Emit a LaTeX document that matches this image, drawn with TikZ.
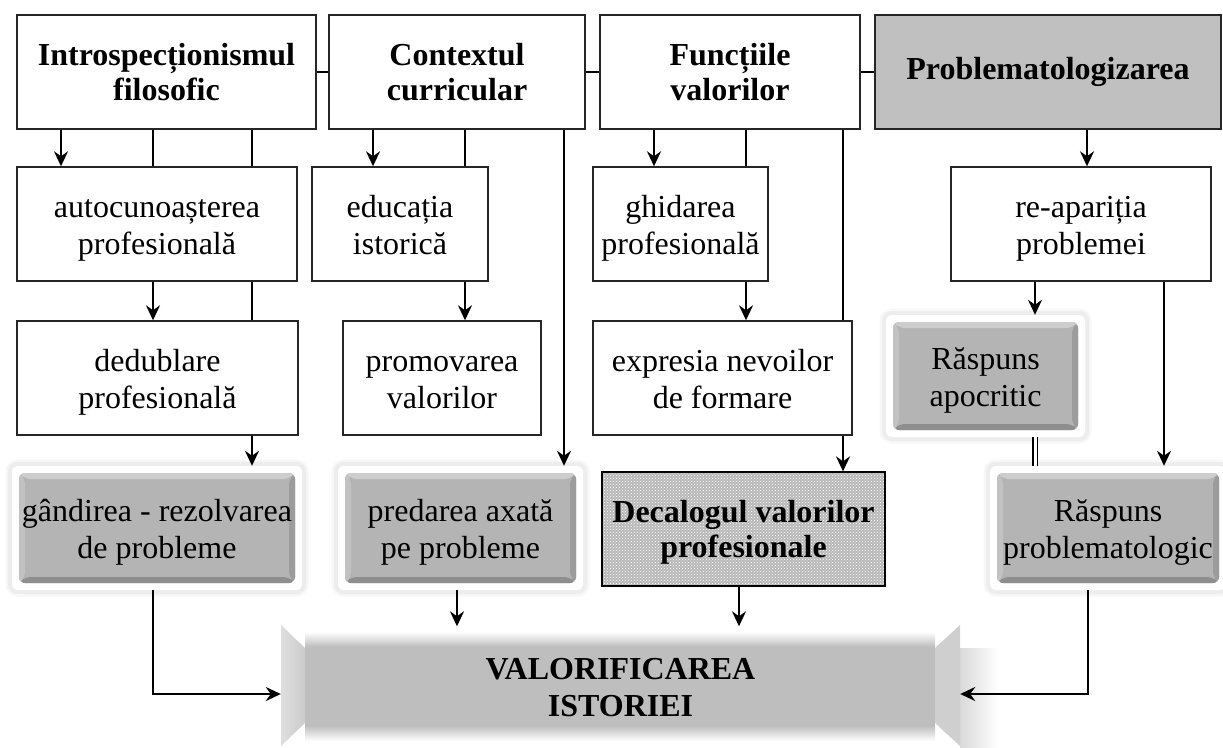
\documentclass[tikz,border=0pt]{standalone}
\usepackage{fontspec}
\setmainfont{Liberation Serif}
\usetikzlibrary{arrows.meta,patterns,backgrounds}
\definecolor{bgray}{HTML}{B4B4B4}
\definecolor{btop}{HTML}{CDCDCD}
\definecolor{bleft}{HTML}{C2C2C2}
\definecolor{bright}{HTML}{9C9C9C}
\definecolor{bbot}{HTML}{8E8E8E}
\definecolor{tgray}{HTML}{C0C0C0}
\definecolor{vgray}{HTML}{BEBEBE}
\newcommand\twol[2]{\rule{0pt}{32pt}#1\\#2\rule[-9pt]{0pt}{9pt}}
\newcommand\twob[2]{\rule{0pt}{30pt}#1\\#2\rule[-9pt]{0pt}{9pt}}
\begin{document}
\begin{tikzpicture}[x=1pt,y=-1pt,
  box/.style={draw=black!85, line width=1.4pt, align=center, inner sep=0pt,
    font=\fontsize{32}{37}\selectfont},
  bbox/.style={box, font=\fontsize{32}{35}\selectfont\bfseries},
  conn/.style={line width=2.3pt, black},
  arr/.style={conn, -{Stealth[length=15pt,width=14pt,inset=5pt]}},
  dline/.style={double, double distance=3pt, line width=1.2pt},
  bevel/.style={draw=none, fill=white, rounded corners=6pt, align=center, inner sep=0pt,
    font=\fontsize{32}{37}\selectfont,
    preaction={draw=black!3, line width=13pt},
    preaction={draw=black!7, line width=8pt},
    path picture={
      \path (path picture bounding box.north west) ++(7pt,-7pt) coordinate (iNW);
      \path (path picture bounding box.north east) ++(-7pt,-7pt) coordinate (iNE);
      \path (path picture bounding box.south west) ++(7pt,7pt) coordinate (iSW);
      \path (path picture bounding box.south east) ++(-7pt,7pt) coordinate (iSE);
      \fill[bgray] (iNW) rectangle (iSE);
      \fill[btop] (iNW) -- (iNE) -- ([shift={(-6pt,-6pt)}]iNE) -- ([shift={(6pt,-6pt)}]iNW) -- cycle;
      \fill[bbot] (iSW) -- (iSE) -- ([shift={(-6pt,6pt)}]iSE) -- ([shift={(6pt,6pt)}]iSW) -- cycle;
      \fill[bleft] (iNW) -- ([shift={(6pt,-6pt)}]iNW) -- ([shift={(6pt,6pt)}]iSW) -- (iSW) -- cycle;
      \fill[bright] (iNE) -- ([shift={(-6pt,-6pt)}]iNE) -- ([shift={(-6pt,6pt)}]iSE) -- (iSE) -- cycle;
    }},
  dotted box/.style={draw=black, line width=1.3pt, align=center, inner sep=0pt,
    font=\fontsize{32}{35}\selectfont\bfseries,
    preaction={fill=black!28}, pattern=crosshatch dots, pattern color=white}
]
\useasboundingbox (0,0) rectangle (1223,747);

% x positions of connectors
\coordinate (x61) at (61,0);
\coordinate (x153) at (153,0);
\coordinate (x252) at (252,0);
\coordinate (x373) at (373,0);
\coordinate (x465) at (465,0);
\coordinate (x564) at (564,0);
\coordinate (x654) at (654,0);
\coordinate (x746) at (746,0);
\coordinate (x843) at (843,0);
\coordinate (x1087) at (1087,0);
\coordinate (x1035) at (1035,0);
\coordinate (x1164) at (1164,0);
\coordinate (x457) at (457,0);
\coordinate (x739) at (739,0);
\coordinate (x1088) at (1088,0);
\coordinate (ylow) at (0,694);

% bottom box decoration
\shade[left color=black!15, right color=white] (960,648) rectangle (998,747);
\fill[vgray] (305,646) rectangle (935,726);
\shade[top color=white, bottom color=vgray] (305,632) rectangle (935,646.5);
\shade[top color=vgray, bottom color=white] (305,725.5) rectangle (935,741);
\shade[left color=black!13, right color=black!20] (281,625) -- (305,648) -- (305,723) -- (281,746) -- cycle;
\fill[black!19] (935,648) -- (960,625) -- (960,746) -- (935,723) -- cycle;

% top row
\node[bbox, minimum width=299pt, minimum height=114pt] (t1) at (166.5,72) {\twob{Introspecționismul}{filosofic}};
\node[bbox, minimum width=256pt, minimum height=114pt] (t2) at (457,72) {\twob{Contextul}{curricular}};
\node[bbox, minimum width=260pt, minimum height=114pt] (t3) at (730,72) {\twob{Funcțiile}{valorilor}};
\node[bbox, fill=tgray, minimum width=346pt, minimum height=114pt] (t4) at (1048,72) {Problematologizarea};

% second row
\node[box, minimum width=280pt, minimum height=114pt] (a1) at (157,224) {\twol{autocunoașterea}{profesională}};
\node[box, minimum width=176pt, minimum height=114pt] (b1) at (400,224) {\twol{educația}{istorică}};
\node[box, minimum width=175pt, minimum height=114pt] (c1) at (680.5,224) {\twol{ghidarea}{profesională}};
\node[box, minimum width=260pt, minimum height=114pt] (d1) at (1081,224) {\twol{re-apariția}{problemei}};

% third row
\node[box, minimum width=281pt, minimum height=114pt] (a2) at (157.5,378) {\twol{dedublare}{profesională}};
\node[box, minimum width=198pt, minimum height=114pt] (b2) at (442,378) {\twol{promovarea}{valorilor}};
\node[box, fill=white, minimum width=259pt, minimum height=114pt] (c2) at (722.5,378) {\twol{expresia nevoilor}{de formare}};
\node[bevel, minimum width=199pt, minimum height=122pt] (d2) at (985.5,376) {\twol{Răspuns}{apocritic}};

% fourth row
\node[bevel, minimum width=290pt, minimum height=124pt] (a3) at (157,528) {\twol{gândirea - rezolvarea}{de probleme}};
\node[bevel, minimum width=245pt, minimum height=124pt] (b3) at (460.5,528) {\twol{predarea axată}{pe probleme}};
\node[dotted box, minimum width=283pt, minimum height=114pt] (c3) at (743.5,529) {\twob{Decalogul valorilor}{profesionale}};
\node[bevel, minimum width=236pt, minimum height=124pt] (d3) at (1108,528) {\twol{Răspuns}{problematologic}};

% bottom box
\node[align=center, inner sep=0pt, font=\fontsize{32}{37}\selectfont\bfseries,
  minimum width=679pt, minimum height=121pt] (V) at (620.5,687) {\twob{VALORIFICAREA}{ISTORIEI}};

% connectors behind boxes
\begin{pgfonlayer}{background}
\draw[arr] (t3.south -| x843) -- (c3.north -| x843);
\end{pgfonlayer}

% top links
\draw[conn] (t1.east) -- (t2.west);
\draw[conn] (t2.east) -- (t3.west);
\draw[conn] (t3.east) -- (t4.west);

% column 1
\draw[arr] (t1.south -| x61) -- (a1.north -| x61);
\draw[conn] (t1.south -| x153) -- (a1.north -| x153);
\draw[conn] (t1.south -| x252) -- (a1.north -| x252);
\draw[arr] (a1.south -| x153) -- (a2.north -| x153);
\draw[conn] (a1.south -| x252) -- (a2.north -| x252);
\draw[arr] (a2.south -| x252) -- (a3.north -| x252);

% column 2
\draw[arr] (t2.south -| x373) -- (b1.north -| x373);
\draw[conn] (t2.south -| x465) -- (b1.north -| x465);
\draw[arr] (b1.south -| x465) -- (b2.north -| x465);
\draw[arr] (t2.south -| x564) -- (b3.north -| x564);

% column 3
\draw[arr] (t3.south -| x654) -- (c1.north -| x654);
\draw[conn] (t3.south -| x746) -- (c1.north -| x746);
\draw[arr] (c1.south -| x746) -- (c2.north -| x746);

% column 4
\draw[arr] (t4.south -| x1087) -- (d1.north -| x1087);
\draw[arr] (d1.south -| x1035) -- (d2.north -| x1035);
\draw[arr] (d1.south -| x1164) -- (d3.north -| x1164);
\draw[dline] (d2.south -| x1035) -- (d3.north -| x1035);

% into the bottom box
\draw[arr] (a3.south -| x153) |- (V.west |- ylow);
\draw[arr] (b3.south -| x457) -- (V.north -| x457);
\draw[arr] (c3.south -| x739) -- (V.north -| x739);
\draw[arr] (d3.south -| x1088) |- (V.east |- ylow);
\end{tikzpicture}
\end{document}
